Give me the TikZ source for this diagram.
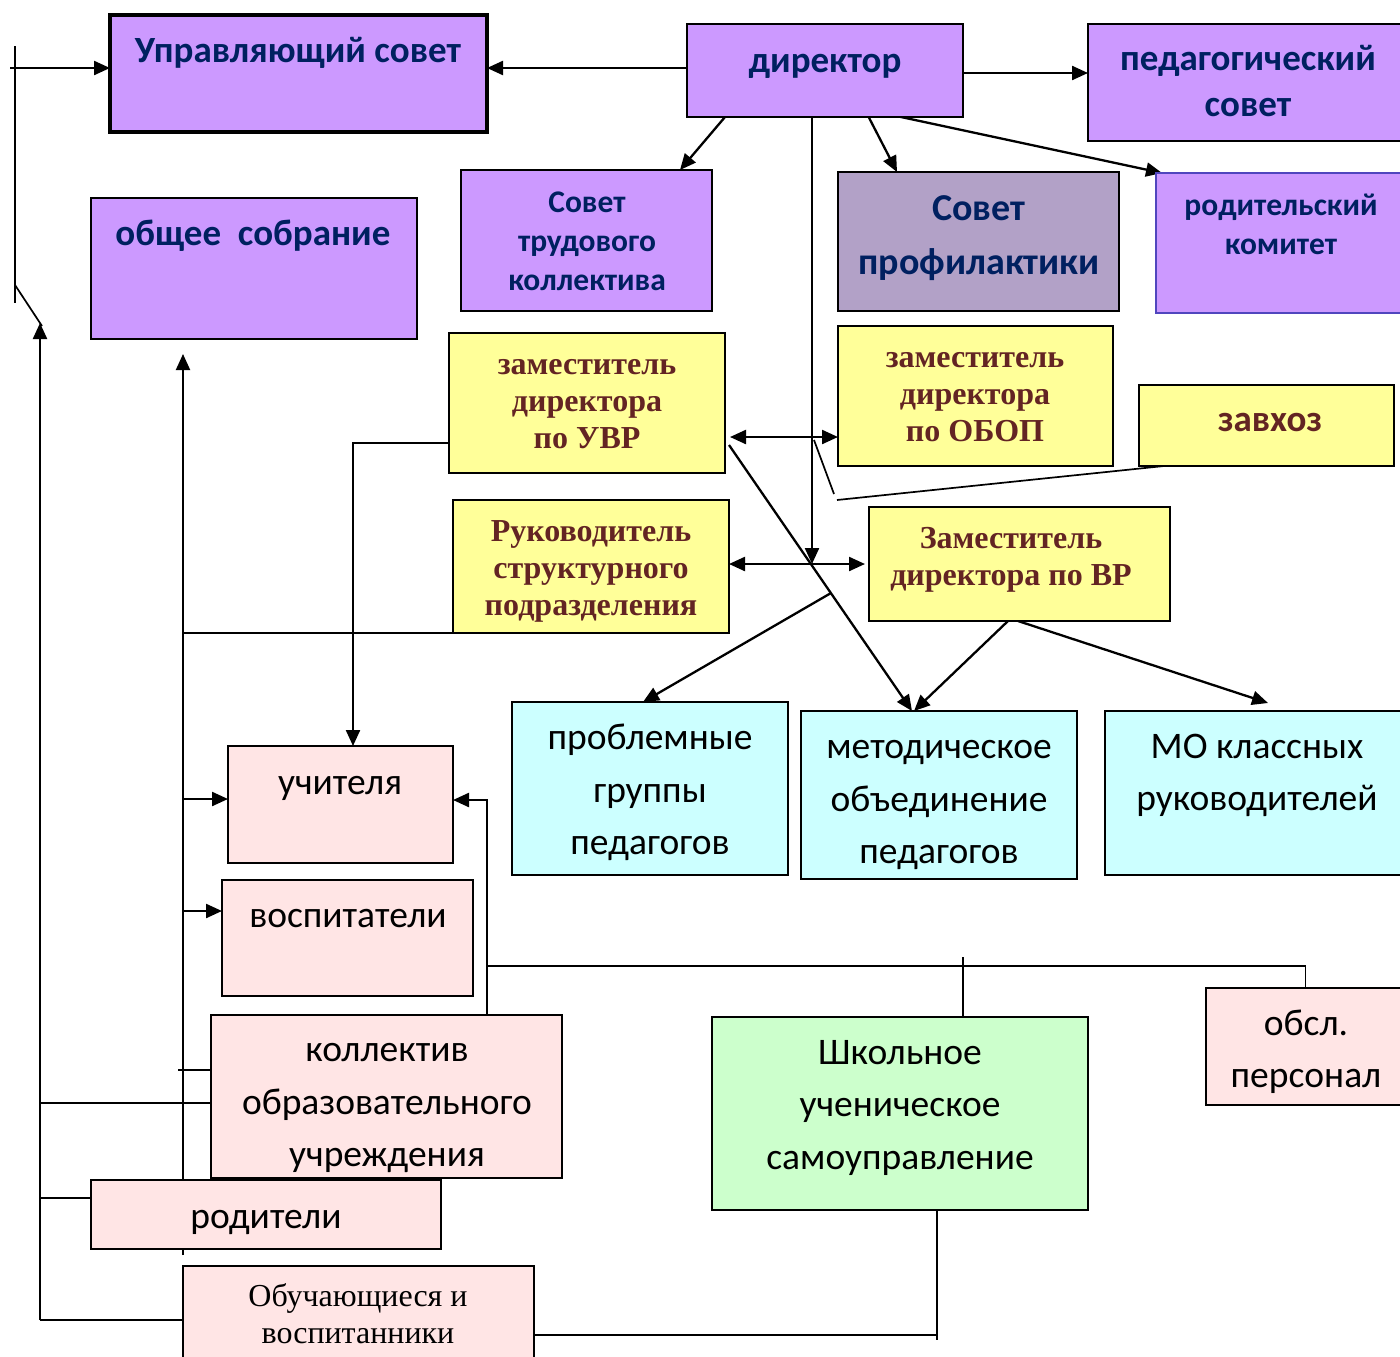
\documentclass[tikz,border=0pt]{standalone}
\usepackage{fontspec}
\setmainfont{Carlito}
\newfontfamily\tnr{Liberation Serif}
\usetikzlibrary{arrows.meta}
\pgfdeclarelayer{bg}
\pgfsetlayers{bg,main}
\definecolor{tnavy}{RGB}{0,32,96}
\definecolor{vio}{RGB}{204,153,255}
\definecolor{grv}{RGB}{178,161,199}
\definecolor{yel}{RGB}{255,255,153}
\definecolor{cya}{RGB}{204,255,255}
\definecolor{pnk}{RGB}{255,229,229}
\definecolor{grn}{RGB}{204,255,204}
\definecolor{brn}{RGB}{99,36,35}
\definecolor{rkb}{RGB}{80,70,190}
\newcommand\orgbox[6]{\node[#2, anchor=north west, minimum width={(#5-#3)*1pt}, minimum height={(#6-#4)*1pt}] (#1) at (#3,#4) {};}
\tikzset{
  box/.style={draw=black, line width=1.8pt, inner sep=0pt, outer sep=0pt},
  tx/.style={inner sep=0pt, align=center},
  hb/.style={font=\fontsize{37}{46}\selectfont\bfseries, text=tnavy, yshift=-3pt},
  hs/.style={font=\fontsize{31.5}{39}\selectfont\bfseries, text=tnavy, yshift=-3pt},
  hp/.style={font=\fontsize{38}{54}\selectfont\bfseries, text=tnavy, yshift=-2pt},
  ys/.style={font=\tnr\fontsize{32}{37}\selectfont\bfseries, text=brn, yshift=-3pt},
  zb/.style={font=\fontsize{37}{44}\selectfont\bfseries, text=brn, yshift=-3pt},
  rg/.style={font=\fontsize{37.5}{52.5}\selectfont, text=black, yshift=-1.5pt},
  tr/.style={font=\tnr\fontsize{32}{37}\selectfont, text=black, yshift=-3pt},
  arr/.style={line width=2.3pt, -{Triangle[length=16pt,width=14pt]}},
  darr/.style={line width=2.3pt, {Triangle[length=16pt,width=14pt]}-{Triangle[length=16pt,width=14pt]}},
  cline/.style={line width=1.7pt},
}
\begin{document}
\begin{tikzpicture}[x=1pt,y=-1pt]
\useasboundingbox (0,0) rectangle (1400,1357);
% boxes
\orgbox{uc}{box,fill=vio,line width=3.2pt}{110}{15}{487}{132}
\orgbox{dir}{box,fill=vio}{687}{24}{963}{117}
\orgbox{ped}{box,fill=vio}{1088}{24}{1405}{141}
\orgbox{ob}{box,fill=vio}{91}{198}{417}{339}
\orgbox{stk}{box,fill=vio}{461}{170}{712}{311}
\orgbox{sp}{box,fill=grv}{838}{172}{1119}{311}
\orgbox{rk}{box,fill=vio,draw=rkb}{1156}{173}{1405}{313}
\orgbox{uvr}{box,fill=yel}{449}{333}{725}{473}
\orgbox{obop}{box,fill=yel}{838}{326}{1113}{466}
\orgbox{zav}{box,fill=yel}{1139}{385}{1394}{466}
\orgbox{rsp}{box,fill=yel}{453}{500}{729}{633}
\orgbox{vr}{box,fill=yel}{869}{507}{1170}{621}
\orgbox{pg}{box,fill=cya}{512}{702}{788}{875}
\orgbox{mo}{box,fill=cya}{801}{711}{1077}{879}
\orgbox{mok}{box,fill=cya}{1105}{711}{1405}{875}
\orgbox{uch}{box,fill=pnk}{228}{746}{453}{863}
\orgbox{vos}{box,fill=pnk}{222}{880}{473}{996}
\orgbox{kou}{box,fill=pnk}{211}{1015}{562}{1178}
\orgbox{rod}{box,fill=pnk}{91}{1180}{441}{1249}
\orgbox{obu}{box,fill=pnk}{183}{1266}{534}{1365}
\orgbox{shk}{box,fill=grn}{712}{1017}{1088}{1210}
\orgbox{obs}{box,fill=pnk}{1206}{988}{1405}{1105}
% texts
\node[tx,hb] (uct) at (298,50) {\strut Управляющий совет\strut};
\node[tx,hb] (dirt) at (825,60) {\strut директор\strut};
\node[tx,hb] (pedt) at (1248,81) {\strut педагогический\\совет\strut};
\node[tx,hb] (obt) at (253,233) {\strut общее\ \ собрание\strut};
\node[tx,hs] (stkt) at (587,241) {\strut Совет\\трудового\\коллектива\strut};
\node[tx,hp] (spt) at (979,235) {\strut Совет\\профилактики\strut};
\node[tx,hs] (rkt) at (1281,224.5) {\strut родительский\\комитет\strut};
\node[tx,ys] (uvrt) at (587,401) {\strut заместитель\\директора\\по УВР\strut};
\node[tx,ys] (obopt) at (975,394) {\strut заместитель\\директора\\по ОБОП\strut};
\node[tx,zb] (zavt) at (1270,420) {\strut завхоз\strut};
\node[tx,ys] (rspt) at (591,568) {\strut Руководитель\\структурного\\подразделения\strut};
\node[tx,ys] (vrt) at (1011,556.5) {\strut Заместитель\\директора по ВР\strut};
\node[tx,rg] (pgt) at (650,790) {\strut проблемные\\группы\\педагогов\strut};
\node[tx,rg] (mot) at (939,799) {\strut методическое\\объединение\\педагогов\strut};
\node[tx,rg] (mokt) at (1257,772.5) {\strut МО классных\\руководителей\strut};
\node[tx,rg] (ucht) at (340,782) {\strut учителя\strut};
\node[tx,rg] (vost) at (348,915) {\strut воспитатели\strut};
\node[tx,rg] (kout) at (387,1102) {\strut коллектив\\образовательного\\учреждения\strut};
\node[tx,rg] (rodt) at (266,1216) {\strut родители\strut};
\node[tx,tr] (obut) at (358,1314.5) {\strut Обучающиеся и\\воспитанники\strut};
\node[tx,rg] (shkt) at (900,1104.5) {\strut Школьное\\ученическое\\самоуправление\strut};
\node[tx,rg] (obst) at (1306,1049.5) {\strut обсл.\\персонал\strut};
% connector end points
\coordinate (lt) at (10,68);
\coordinate (v1t) at (15,46);
\coordinate (v1b) at (15,303);
\coordinate (dg1) at (15,285);
\coordinate (dg2) at (42,326);
\coordinate (lb) at (40,1320);
\coordinate (lup) at (40,323);
\coordinate (c183t) at (183,354);
\coordinate (c183b) at (183,1255);
\coordinate (tk) at (178,1070);
\coordinate (vd) at (812,564);
\coordinate (mokin) at (1268,703);
\coordinate (pgs) at (831,593);
\coordinate (d1) at (814,440);
\coordinate (d2) at (834,494);
\coordinate (zs) at (837,500);
\coordinate (j1) at (487,966);
\coordinate (j2) at (963,957);
\coordinate (j3) at (937,1335);
\coordinate (j4) at (937,1340);
\begin{pgfonlayer}{bg}
\fill[white] (0,0) rectangle (1400,1357);
\draw[arr] (dir.west |- 0,68) -- (uc.east |- 0,68);
\draw[arr] (lt) -- (uc.west |- lt);
\draw[cline] (v1t) -- (v1b);
\draw[cline] (dg1) -- (dg2);
\draw[arr] (lb) -- (lup);
\draw[cline] (lb |- 0,1103) -- (kou.west |- 0,1103);
\draw[cline] (lb |- 0,1198) -- (rod.west |- 0,1198);
\draw[cline] (lb) -- (obu.west |- lb);
\draw[arr,line width=1.9pt] (c183b) -- (c183t);
\draw[cline] (c183t |- rsp.south) -- (rsp.south west);
\draw[arr] (c183t |- 0,799) -- (uch.west |- 0,799);
\draw[arr] (c183t |- 0,911) -- (vos.west |- 0,911);
\draw[cline] (tk) -- (kou.west |- tk);
\draw[arr] ([xshift=4pt]uvr.west |- 0,443) -| (353,0 |- uch.north);
\draw[darr] ([xshift=5pt]uvr.east |- 0,437) -- (obop.west |- 0,437);
\draw[arr] (812,0 |- dir.south) -- (vd);
\draw[darr] (rsp.east |- 0,564) -- ([xshift=-4pt]vr.west |- 0,564);
\draw[arr] ([xshift=4pt]uvr.east |- 0,445) -- (912,0 |- mo.north);
\draw[arr] (1008,0 |- vr.south) -- (914,0 |- mo.north);
\draw[arr] (1018,0 |- vr.south) -- (mokin);
\draw[arr] (pgs) -- (643,0 |- pg.north);
\draw[arr] (725,0 |- dir.south) -- (680,0 |- stk.north);
\draw[arr] ([xshift=39pt,yshift=9pt]dir.south) -- (897,0 |- sp.north);
\draw[arr] ([xshift=62pt,yshift=3pt]dir.south) -- ([xshift=6pt]rk.north west);
\draw[arr] (dir.east |- 0,73) -- (ped.west |- 0,73);
\draw[cline] (d1) -- (d2);
\draw[cline] (zs) -- (1164,0 |- zav.south);
\draw[arr] (487,0 |- kou.north) |- (uch.east |- 0,800);
\draw[cline] (j1) -| (obs.north);
\draw[cline] (j2) -- (963,0 |- shk.north);
\draw[cline] (obu.east |- j3) -- (j3);
\draw[cline] (937,0 |- shk.south) -- (j4);
\end{pgfonlayer}
\end{tikzpicture}
\end{document}
